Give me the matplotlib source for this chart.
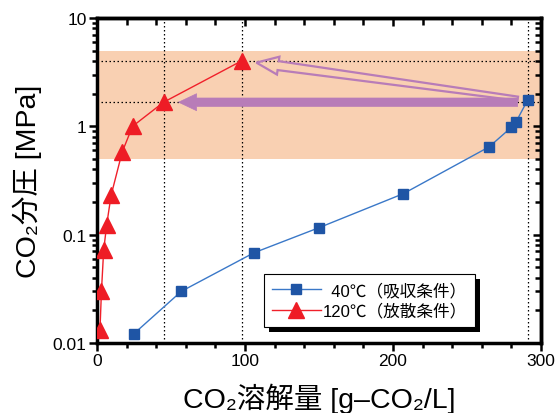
import numpy as np
import matplotlib
matplotlib.use("Agg")
import matplotlib.pyplot as plt
from matplotlib.patches import Polygon, Rectangle
from matplotlib.ticker import MultipleLocator, LogLocator, NullFormatter

plt.rcParams['font.family'] = ['Liberation Sans', 'Noto Sans CJK JP', 'DejaVu Sans']

# 40C absorption
abs_x = [25, 57, 106, 150, 207, 265, 280, 283, 291]
abs_p = [0.0122, 0.030, 0.068, 0.116, 0.239, 0.647, 0.98, 1.09, 1.75]
# 120C desorption
des_x = [2, 3, 4.5, 6.5, 9.5, 17, 24, 45, 98]
des_p = [0.0131, 0.030, 0.0716, 0.122, 0.230, 0.578, 1.0, 1.67, 4.04]

band = (0.5, 5.0)
xticks = [0, 100, 200, 300]
yticks = [0.01, 0.1, 1, 10]
ytick_labels = ['0.01', '0.1', '1', '10']

purple = '#B87CB8'

fig = plt.figure(figsize=(5.59, 4.14), dpi=100)
ax = fig.add_axes([97/559, 1-344/414, 444/559, 325/414])
ax.set_yscale('log')
ax.set_xlim(0, 300)
ax.set_ylim(0.01, 10)

ax.axhspan(band[0], band[1], color='#F9D0B2', lw=0, zorder=0)

# guide lines
dot = dict(color='k', ls=(0, (1.2, 2)), lw=0.9, zorder=1)
ax.axhline(des_p[-1], **dot)
ax.axhline(des_p[-2], **dot)
ax.axvline(des_x[-1], **dot)
ax.axvline(des_x[-2], **dot)
ax.axvline(abs_x[-1], **dot)

ax.plot(abs_x, abs_p, '-', color='#3A78C8', lw=1.0, marker='s', ms=7.8,
        mfc='#1F55A5', mec='#1F55A5', zorder=4, label='  40℃（吸収条件）')
ax.plot(des_x, des_p, '-', color='#F0202A', lw=1.0, marker='^', ms=11,
        mfc='#EE1C25', mec='#EE1C25', zorder=4, label='120℃（放散条件）')

ax.set_xticks(xticks)
ax.xaxis.set_minor_locator(MultipleLocator(20))
ax.set_yticks(yticks)
ax.set_yticklabels(ytick_labels)
ax.yaxis.set_minor_locator(LogLocator(base=10, subs=np.arange(2, 10)))
ax.yaxis.set_minor_formatter(NullFormatter())

for s in ax.spines.values():
    s.set_linewidth(2.5)
ax.tick_params(axis='both', which='major', labelsize=12.5, width=1.8, length=6, pad=1.5)
ax.tick_params(axis='both', which='minor', width=1.8, length=3.5)
ax.tick_params(axis='both', which='both', direction='out', top=False, right=False)

ax.set_xlabel('CO₂溶解量 [g–CO₂/L]', fontsize=20.5, labelpad=10)
ax.set_ylabel('CO₂分圧 [MPa]', fontsize=20.5, labelpad=8)

# inward ticks on top/right
ax_top = ax.secondary_xaxis('top')
ax_top.set_xticks(xticks)
ax_top.xaxis.set_minor_locator(MultipleLocator(20))
ax_top.tick_params(which='both', direction='in', labeltop=False, width=1.8)
ax_top.tick_params(which='major', length=6)
ax_top.tick_params(which='minor', length=5)
ax_top.spines['top'].set_linewidth(2.5)
ax_right = ax.secondary_yaxis('right')
ax_right.set_yticks(yticks)
ax_right.yaxis.set_minor_locator(LogLocator(base=10, subs=np.arange(2, 10)))
ax_right.yaxis.set_minor_formatter(NullFormatter())
ax_right.tick_params(which='both', direction='in', labelright=False, width=1.8)
ax_right.tick_params(which='major', length=6)
ax_right.tick_params(which='minor', length=4)
ax_right.spines['right'].set_linewidth(2.5)

leg = ax.legend(loc='lower left', bbox_to_anchor=(0.376, 0.049), fontsize=12,
                fancybox=False, framealpha=1, edgecolor='k', handlelength=2.9,
                labelspacing=0.3, borderpad=0.5, handletextpad=0.1,
                borderaxespad=0)
leg.get_frame().set_linewidth(0.8)
leg.set_zorder(6)


def arrow_poly(p_from, p_to, shrink_a, shrink_b, head_len, head_hw, hw_head, hw_tail):
    # polygon in display pixels from p_from (tail) to p_to (tip)
    s = np.array(p_from, float)
    e = np.array(p_to, float)
    u = (s - e) / np.hypot(*(s - e))
    n = np.array([-u[1], u[0]])
    tip = e + shrink_b * u
    tail = s - shrink_a * u
    base = tip + head_len * u
    return [tip, base + head_hw * n, base + hw_head * n, tail + hw_tail * n,
            tail - hw_tail * n, base - hw_head * n, base - head_hw * n]


fig.canvas.draw()
td = ax.transData
blue_end = td.transform((abs_x[-1], abs_p[-1]))
# filled arrow along the 1.67 MPa line
red_mid = td.transform((des_x[-2], des_p[-2]))
start = (blue_end[0], red_mid[1])
pts = arrow_poly(start, red_mid, 10, 15, 18, 8.5, 4.2, 4.2)
ax.add_patch(Polygon(pts, closed=True, transform=None, fc=purple, ec=purple,
                     lw=0.5, zorder=3))
# hollow arrow to the 4 MPa point
red_top = td.transform((des_x[-1], des_p[-1]))
pts = arrow_poly(blue_end, red_top, 10, 14.5, 22, 9, 4.5, 2)
ax.add_patch(Polygon(pts, closed=True, transform=None, fc='none', ec=purple,
                     lw=1.6, zorder=3))

# black drop shadow behind the legend
bb = leg.get_window_extent()
ax.add_patch(Rectangle((bb.x0 + 5, bb.y0 - 5), bb.width, bb.height,
                       transform=None, fc='k', ec='none', zorder=5.5,
                       clip_on=False))

fig.savefig('out.png', dpi=100)
